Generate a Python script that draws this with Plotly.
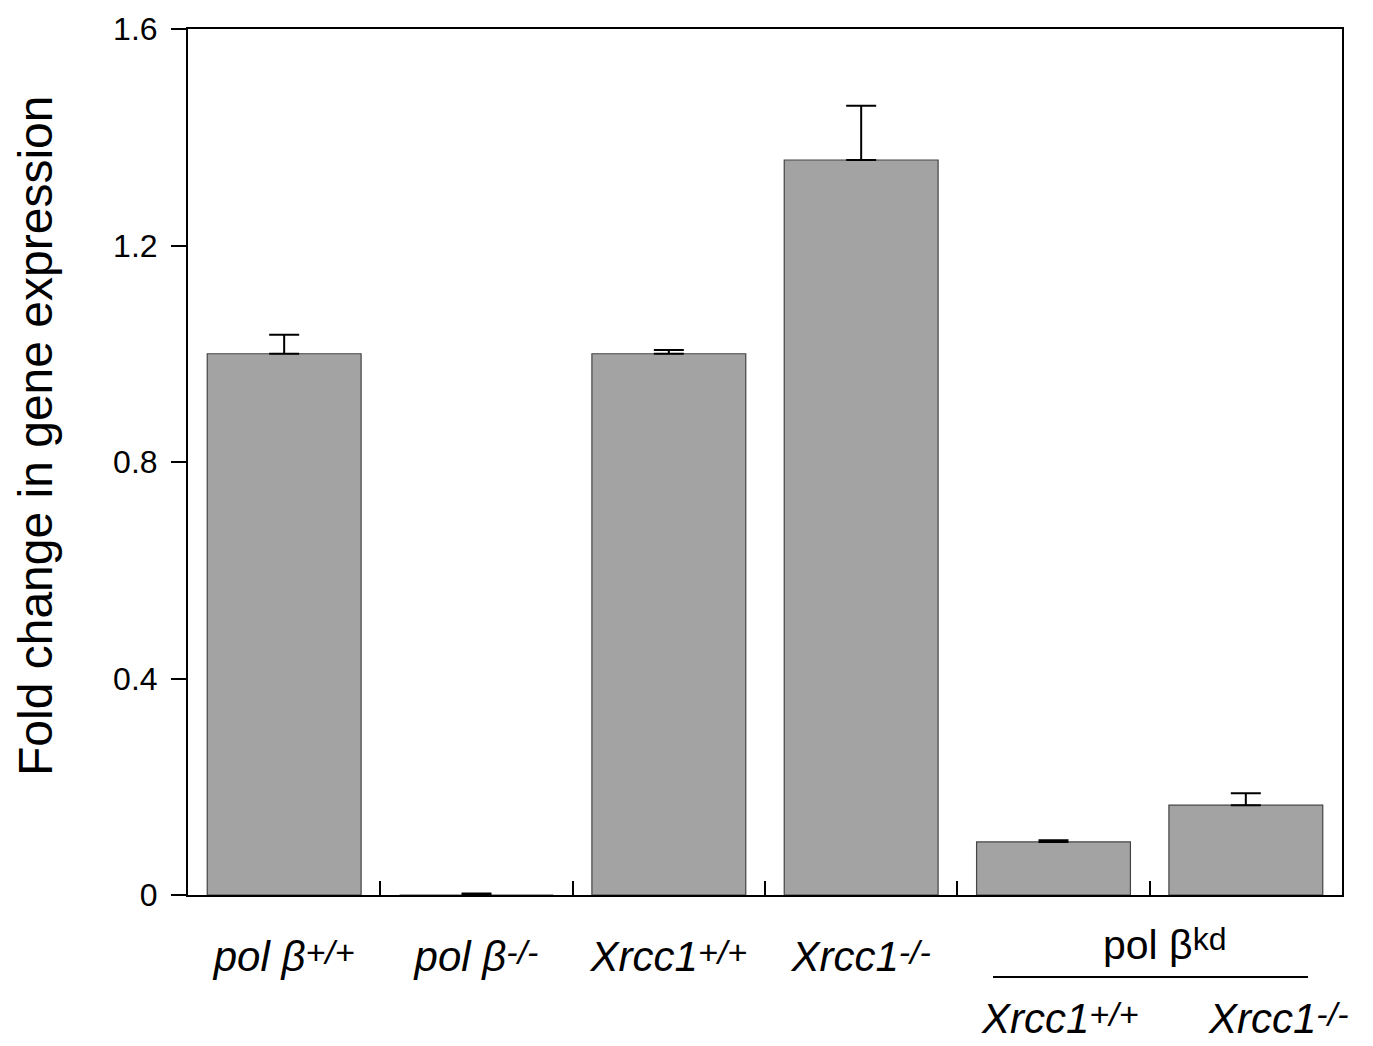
import plotly.graph_objects as go

categories = ["polb_wt", "polb_ko", "xrcc1_wt", "xrcc1_ko", "kd_xrcc1_wt", "kd_xrcc1_ko"]
SUP = '<span style="font-size:34px;baseline-shift:7px">{}</span>'
tick_labels = [
    "<i>pol β" + SUP.format("+/+") + "</i>",
    "<i>pol β" + SUP.format("-/-") + "</i>",
    "<i>Xrcc1" + SUP.format("+/+") + "</i>",
    "<i>Xrcc1" + SUP.format("-/-") + "</i>",
    "",
    "",
]
values = [1.0, 0.0, 1.0, 1.358, 0.098, 0.166]
errors = [0.035, 0.003, 0.007, 0.10, 0.003, 0.022]
group_label = 'pol β<span style="font-size:32px;baseline-shift:9px">kd</span>'
sub_labels = ["<i>Xrcc1" + SUP.format("+/+") + "</i>", "<i>Xrcc1" + SUP.format("-/-") + "</i>"]
y_ticks = [0, 0.4, 0.8, 1.2, 1.6]
y_tick_text = ["0", "0.4", "0.8", "1.2", "1.6"]
y_title = "Fold change in gene expression"

FONT = "Arial, Liberation Sans, Helvetica, sans-serif"

fig = go.Figure()
fig.add_trace(go.Bar(
    x=categories,
    y=values,
    width=0.8,
    marker=dict(color="#a3a3a3", line=dict(color="#444444", width=1.2)),
    error_y=dict(type="data", array=errors, arrayminus=[0] * len(errors),
                 symmetric=False, color="black", thickness=2, width=15),
    showlegend=False,
))

fig.update_layout(
    width=1373, height=1046,
    margin=dict(l=188, r=31, t=29, b=151),
    plot_bgcolor="white", paper_bgcolor="white",
    font=dict(family=FONT, color="black"),
    bargap=0.2,
)

fig.update_xaxes(
    type="category",
    categoryorder="array", categoryarray=categories,
    tickmode="array", tickvals=categories, ticktext=tick_labels,
    tickson="boundaries",
    ticks="inside", ticklen=14, tickwidth=2, tickcolor="black",
    showline=True, linecolor="black", linewidth=2, mirror=True,
    showgrid=False,
    tickfont=dict(size=42, family=FONT),
    ticklabelstandoff=24,
    range=[-0.5, 5.5],
)

fig.update_yaxes(
    range=[0, 1.6],
    tickmode="array", tickvals=y_ticks, ticktext=y_tick_text,
    ticks="outside", ticklen=15, tickwidth=2, tickcolor="black",
    showline=True, linecolor="black", linewidth=2, mirror=True,
    showgrid=False, zeroline=False,
    tickfont=dict(size=32, family=FONT),
    ticklabelstandoff=7,
)

# y-axis title, placed as rotated text
fig.add_annotation(
    x=-0.1326, y=0.530, xref="paper", yref="paper",
    text=y_title, textangle=-90, showarrow=False,
    font=dict(size=48, family=FONT), xanchor="center", yanchor="middle",
)

# group label and underline for the pol beta kd pair
fig.add_annotation(
    x=0.8458, y=-0.0577, xref="paper", yref="paper",
    text=group_label, showarrow=False,
    font=dict(size=41, family=FONT), xanchor="center", yanchor="middle",
)
fig.add_shape(
    type="line", xref="paper", yref="paper",
    x0=0.6976, x1=0.9705, y0=-0.0947, y1=-0.0947,
    line=dict(color="black", width=2),
)
for xp, lab in zip([0.7556, 0.9445], sub_labels):
    fig.add_annotation(
        x=xp, y=-0.143, xref="paper", yref="paper",
        text=lab, showarrow=False,
        font=dict(size=42, family=FONT), xanchor="center", yanchor="middle",
    )

fig.write_html("out.html", config={"displayModeBar": False},
               post_script="document.body.style.margin='0px';")
